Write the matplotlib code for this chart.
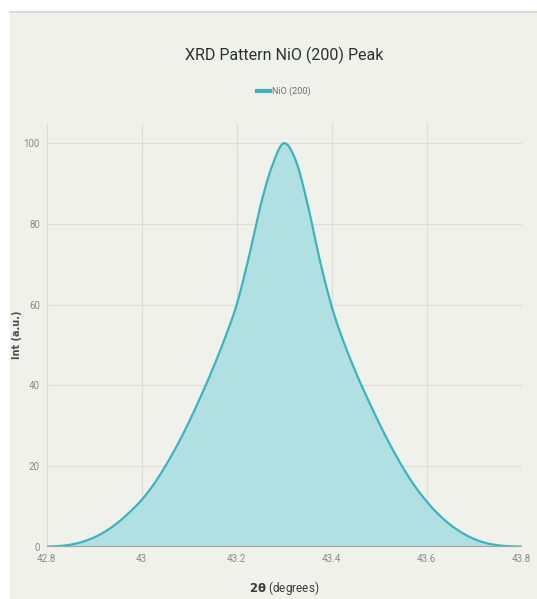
import numpy as np
import matplotlib
matplotlib.use("Agg")
import matplotlib.pyplot as plt
from matplotlib.patches import Rectangle
from matplotlib.lines import Line2D

# ── data ────────────────────────────────────────────────
two_theta = [42.800, 42.825, 42.850, 42.875, 42.900, 42.925, 42.950, 42.975,
             43.000, 43.025, 43.050, 43.075, 43.100, 43.125, 43.150, 43.175,
             43.200, 43.225, 43.250, 43.275, 43.300, 43.325, 43.350, 43.375,
             43.400, 43.425, 43.450, 43.475, 43.500, 43.525, 43.550, 43.575,
             43.600, 43.625, 43.650, 43.675, 43.700, 43.725, 43.750, 43.775, 43.800]
intensity = [0.0, 0.15, 0.5, 1.2, 2.3, 3.9, 6.0, 8.6,
             11.6, 15.4, 20.0, 25.2, 31.0, 37.4, 44.2, 51.6,
             60.0, 71.5, 84.5, 94.5, 100.0, 95.5, 84.5, 71.0,
             59.5, 50.8, 43.4, 36.8, 30.6, 24.8, 19.6, 15.0,
             11.2, 8.0, 5.4, 3.4, 1.9, 0.9, 0.35, 0.1, 0.0]
x_ticks = [42.8, 43.0, 43.2, 43.4, 43.6, 43.8]
x_tick_labels = ["42.8", "43", "43.2", "43.4", "43.6", "43.8"]
y_ticks = [0, 20, 40, 60, 80, 100]

BG = "#f1f1ec"
LINE = "#3bb4be"
FILL = "#b1e0e3"
GRID = "#deded8"
NARROW = ["Liberation Sans Narrow", "Roboto", "DejaVu Sans"]


def smooth(x, y, n=12):
    # cubic hermite through the points (like the chart library's smoothed line)
    x = np.asarray(x, float)
    y = np.asarray(y, float)
    h = np.diff(x)
    d = np.diff(y) / h
    m = np.zeros_like(y)
    m[0], m[-1] = d[0], d[-1]
    for i in range(1, len(x) - 1):
        m[i] = 0.0 if d[i - 1] * d[i] <= 0 else (d[i - 1] + d[i]) / 2
    xs, ys = [], []
    for i in range(len(x) - 1):
        t = np.linspace(0, 1, n, endpoint=False)
        h00 = 2 * t**3 - 3 * t**2 + 1
        h10 = t**3 - 2 * t**2 + t
        h01 = -2 * t**3 + 3 * t**2
        h11 = t**3 - t**2
        xs.append(x[i] + t * h[i])
        ys.append(h00 * y[i] + h10 * h[i] * m[i] + h01 * y[i + 1] + h11 * h[i] * m[i + 1])
    xs.append([x[-1]])
    ys.append([y[-1]])
    return np.concatenate(xs), np.concatenate(ys)


fig = plt.figure(figsize=(5.37, 5.99), dpi=100, facecolor=BG)

# white screenshot margin on top and left
fig.patches.append(Rectangle((0, (599 - 12.5) / 599), 1, 1, transform=fig.transFigure,
                             facecolor="white", edgecolor="none", zorder=-10))
fig.patches.append(Rectangle((0, 0), 10 / 537, 1, transform=fig.transFigure,
                             facecolor="white", edgecolor="none", zorder=-10))
fig.lines.append(Line2D([10 / 537, 1], [(599 - 12.3) / 599] * 2,
                        transform=fig.transFigure, color="#d2d2ce", lw=1.2))

ax = fig.add_axes([46.7 / 537, 52.3 / 599, 475 / 537, 423.7 / 599])
ax.set_facecolor(BG)

xs, ys = smooth(two_theta, intensity)
ax.fill_between(xs, 0, ys, color=FILL, lw=0, zorder=2)
ax.plot(xs, ys, color=LINE, lw=1.6, zorder=3, label="NiO (200)")

ax.set_xlim(42.8, 43.8)
ax.set_ylim(0, 105)
ax.set_xticks(x_ticks)
ax.set_xticklabels(x_tick_labels)
ax.set_yticks(y_ticks)
ax.grid(True, color=GRID, lw=0.8, zorder=0)
ax.set_axisbelow(True)
ax.axhline(0, color="#a3a6a6", lw=1.6, zorder=4)
for sp in ax.spines.values():
    sp.set_visible(False)
ax.tick_params(length=0, labelsize=7, labelcolor="#8a8a88", pad=5)
for lab in ax.get_xticklabels() + ax.get_yticklabels():
    lab.set_family(NARROW)

ax.set_ylabel("Int (a.u.)", fontsize=7, color="#4a4d4f", fontweight="bold", va="center")
ax.yaxis.set_label_coords(-30 / 475, 0.5)
ax.set_xlabel(r"$\mathbf{2\theta}$ (degrees)", fontsize=8.5, color="#3a3d3f",
              family=NARROW, va="center")
ax.xaxis.set_label_coords(0.5, -41 / 423.7)

fig.text(284 / 537, 1 - 55 / 599, "XRD Pattern NiO (200) Peak", ha="center", va="center",
         fontsize=11.5, color="#2b3133", family=NARROW)

leg = fig.legend(handles=[Line2D([], [], color=LINE, lw=3)], labels=["NiO (200)"],
                 loc="center", bbox_to_anchor=(284 / 537, 1 - 91 / 599), frameon=False,
                 handlelength=1.4, handletextpad=0.3, prop={"family": NARROW, "size": 6.5})
for t in leg.get_texts():
    t.set_color("#6a6d6f")

fig.savefig("out.png", dpi=100, facecolor=fig.get_facecolor())
